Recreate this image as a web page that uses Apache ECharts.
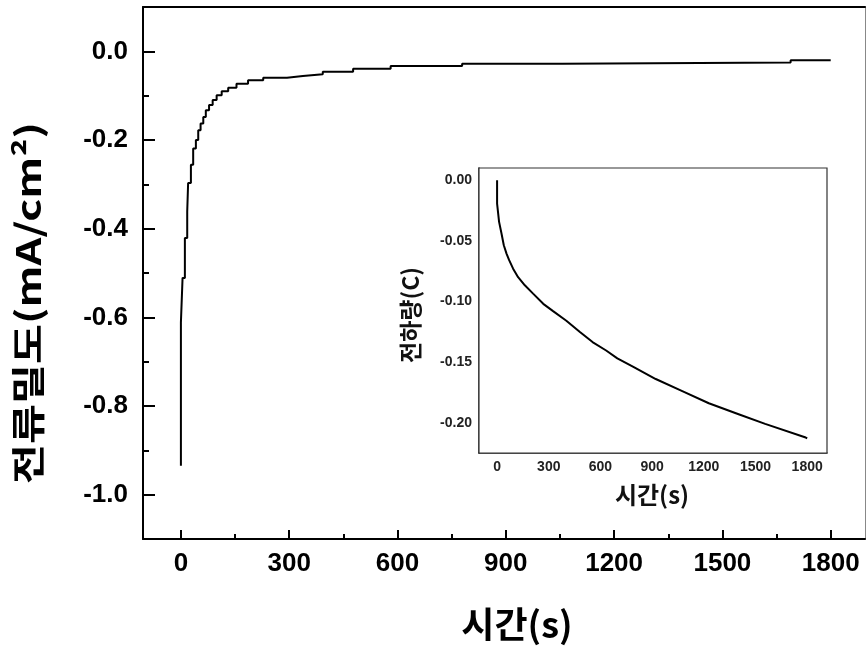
<!DOCTYPE html>
<html>
<head>
<meta charset="utf-8">
<script src="https://cdn.jsdelivr.net/npm/echarts@6/dist/echarts.min.js"></script>
<style>
html,body{margin:0;padding:0;background:#fff;}
#chart{width:867px;height:653px;}
</style>
</head>
<body>
<div id="chart"></div>
<script>
// ---- data ----
// main: current density (mA/cm2) vs time (s), stepwise levels (start time, value)
const mainTime    = [0, 0, 4.6, 11, 17.5, 20, 27.7, 34, 41.5, 48, 54.5, 62, 69, 78, 88, 99, 113, 131, 154, 186, 228, 294, 338, 393, 477, 581, 779, 1056, 1689, 1800];
const mainCurrent = [-0.935, -0.612, -0.511, -0.421, -0.361, -0.297, -0.256, -0.219, -0.200, -0.178, -0.163, -0.148, -0.133, -0.121, -0.110, -0.099, -0.090, -0.082, -0.073, -0.065, -0.0595, -0.0555, -0.0515, -0.046, -0.0395, -0.033, -0.028, -0.025, -0.020, -0.020];
// inset: charge (C) vs time (s)
const insetTime   = [0, 0, 11.6, 25.6, 39, 54.7, 70, 93, 122, 161, 209, 268, 325, 402, 479, 554, 633, 698, 791, 921, 1075, 1229, 1402, 1556, 1787, 1800];
const insetCharge = [0, -0.0193, -0.0344, -0.044, -0.0537, -0.0606, -0.066, -0.073, -0.080, -0.0867, -0.0936, -0.102, -0.108, -0.116, -0.125, -0.1335, -0.1405, -0.147, -0.154, -0.164, -0.174, -0.184, -0.193, -0.201, -0.212, -0.213];
// tick labels
const xTicks          = [0, 300, 600, 900, 1200, 1500, 1800];
const xMinorTicks     = [150, 450, 750, 1050, 1350, 1650];
const mainYTicks      = [0, -0.2, -0.4, -0.6, -0.8, -1.0];
const mainYMinorTicks = [-0.1, -0.3, -0.5, -0.7, -0.9];
const insetYTicks      = [0, -0.05, -0.10, -0.15, -0.20];
const insetYMinorTicks = [-0.025, -0.075, -0.125, -0.175];
// titles
const mainXTitle  = '시간(s)';
const mainYTitle  = '전류밀도(mA/cm²)';
const insetXTitle = '시간(s)';
const insetYTitle = '전하량(C)';

const mainData  = mainTime.map((t, i) => [t, mainCurrent[i]]);
const insetData = insetTime.map((t, i) => [t, insetCharge[i]]);

const LAT = '"Liberation Sans", Arial, sans-serif';
const KR = '"Noto Sans CJK KR", "Noto Sans CJK SC", sans-serif';
const none = {show:false};
const plain = v => String(Math.round(v));

function ax(o){
  return Object.assign({
    type:'value', splitLine:none, axisLine:{show:false, onZero:false}, axisTick:none, axisLabel:none
  }, o);
}

const option = {
  animation:false,
  backgroundColor:'#fff',
  grid:[
    {left:143, top:7, width:722, height:532, show:false},
    {left:479, top:168, width:348, height:285, show:true, backgroundColor:'#fff', borderColor:'#333', borderWidth:1.2, z:5}
  ],
  xAxis:[
    ax({gridIndex:0, min:-105, max:1895, position:'bottom',
      axisLine:{show:true, onZero:false, lineStyle:{color:'#000', width:2}},
      axisTick:{show:true, inside:true, length:9, customValues:xTicks, lineStyle:{color:'#000', width:2}},
      axisLabel:{show:true, customValues:xTicks, margin:12, color:'#000', fontSize:26, fontWeight:'bold', fontFamily:LAT, formatter:plain}}),
    ax({gridIndex:0, min:-105, max:1895, position:'bottom',
      axisTick:{show:true, inside:true, length:5, customValues:xMinorTicks, lineStyle:{color:'#000', width:2}}}),
    ax({gridIndex:0, min:-105, max:1895, position:'top',
      axisLine:{show:true, onZero:false, lineStyle:{color:'#000', width:2}}}),
    ax({gridIndex:1, min:-105, max:1915, position:'bottom',
      axisLine:{show:true, onZero:false, lineStyle:{color:'#222', width:1.5}},
      axisTick:{show:true, inside:true, length:5, customValues:xTicks, lineStyle:{color:'#222', width:1.2}},
      axisLabel:{show:true, customValues:xTicks, margin:7, color:'#222', fontSize:14, fontWeight:'bold', fontFamily:LAT, formatter:plain}}),
    ax({gridIndex:1, min:-105, max:1915, position:'bottom',
      axisTick:{show:true, inside:true, length:3, customValues:xMinorTicks, lineStyle:{color:'#222', width:1.2}}})
  ],
  yAxis:[
    ax({gridIndex:0, min:-1.1, max:0.1, position:'left',
      axisLine:{show:true, onZero:false, lineStyle:{color:'#000', width:2}},
      axisTick:{show:true, inside:true, length:12, customValues:mainYTicks, lineStyle:{color:'#000', width:2}},
      axisLabel:{show:true, customValues:mainYTicks, margin:15, color:'#000', fontSize:26, fontWeight:'bold', fontFamily:LAT,
        formatter:v => Number(v).toFixed(1)}}),
    ax({gridIndex:0, min:-1.1, max:0.1, position:'left',
      axisTick:{show:true, inside:true, length:6, customValues:mainYMinorTicks, lineStyle:{color:'#000', width:2}}}),
    ax({gridIndex:0, min:-1.1, max:0.1, position:'right',
      axisLine:{show:true, onZero:false, lineStyle:{color:'#888', width:1}}}),
    ax({gridIndex:1, min:-0.225, max:0.01, position:'left',
      axisLine:{show:true, onZero:false, lineStyle:{color:'#222', width:1.5}},
      axisTick:{show:true, inside:true, length:5, customValues:insetYTicks, lineStyle:{color:'#222', width:1.2}},
      axisLabel:{show:true, customValues:insetYTicks, margin:7, color:'#222', fontSize:14, fontWeight:'bold', fontFamily:LAT,
        formatter:v => Number(v).toFixed(2)}}),
    ax({gridIndex:1, min:-0.225, max:0.01, position:'left',
      axisTick:{show:true, inside:true, length:3, customValues:insetYMinorTicks, lineStyle:{color:'#222', width:1.2}}})
  ],
  series:[
    {type:'line', xAxisIndex:0, yAxisIndex:0, data:mainData, step:'end', showSymbol:false,
      lineStyle:{color:'#000', width:2}},
    {type:'line', xAxisIndex:3, yAxisIndex:3, data:insetData, showSymbol:false, z:6,
      lineStyle:{color:'#000', width:2}}
  ],
  graphic:[
    {type:'text', x:28, y:303, rotation:Math.PI/2, scaleX:1.28, scaleY:1, z:10,
      style:{text:mainYTitle, fill:'#000', fontSize:34, fontWeight:'bold', fontFamily:KR,
        align:'center', verticalAlign:'middle', textAlign:'center', textVerticalAlign:'middle'}},
    {type:'text', x:517, y:624, z:10,
      style:{text:mainXTitle, fill:'#000', fontSize:36, fontWeight:'bold', fontFamily:KR,
        align:'center', verticalAlign:'middle', textAlign:'center', textVerticalAlign:'middle'}},
    {type:'text', x:410, y:315, rotation:Math.PI/2, z:10,
      style:{text:insetYTitle, fill:'#111', fontSize:23, fontWeight:'bold', fontFamily:KR,
        align:'center', verticalAlign:'middle', textAlign:'center', textVerticalAlign:'middle'}},
    {type:'text', x:652, y:495, z:10,
      style:{text:insetXTitle, fill:'#111', fontSize:24, fontWeight:'bold', fontFamily:KR,
        align:'center', verticalAlign:'middle', textAlign:'center', textVerticalAlign:'middle'}}
  ]
};

const chart = echarts.init(document.getElementById('chart'), null, {renderer:'canvas'});
chart.setOption(option);
</script>
</body>
</html>
